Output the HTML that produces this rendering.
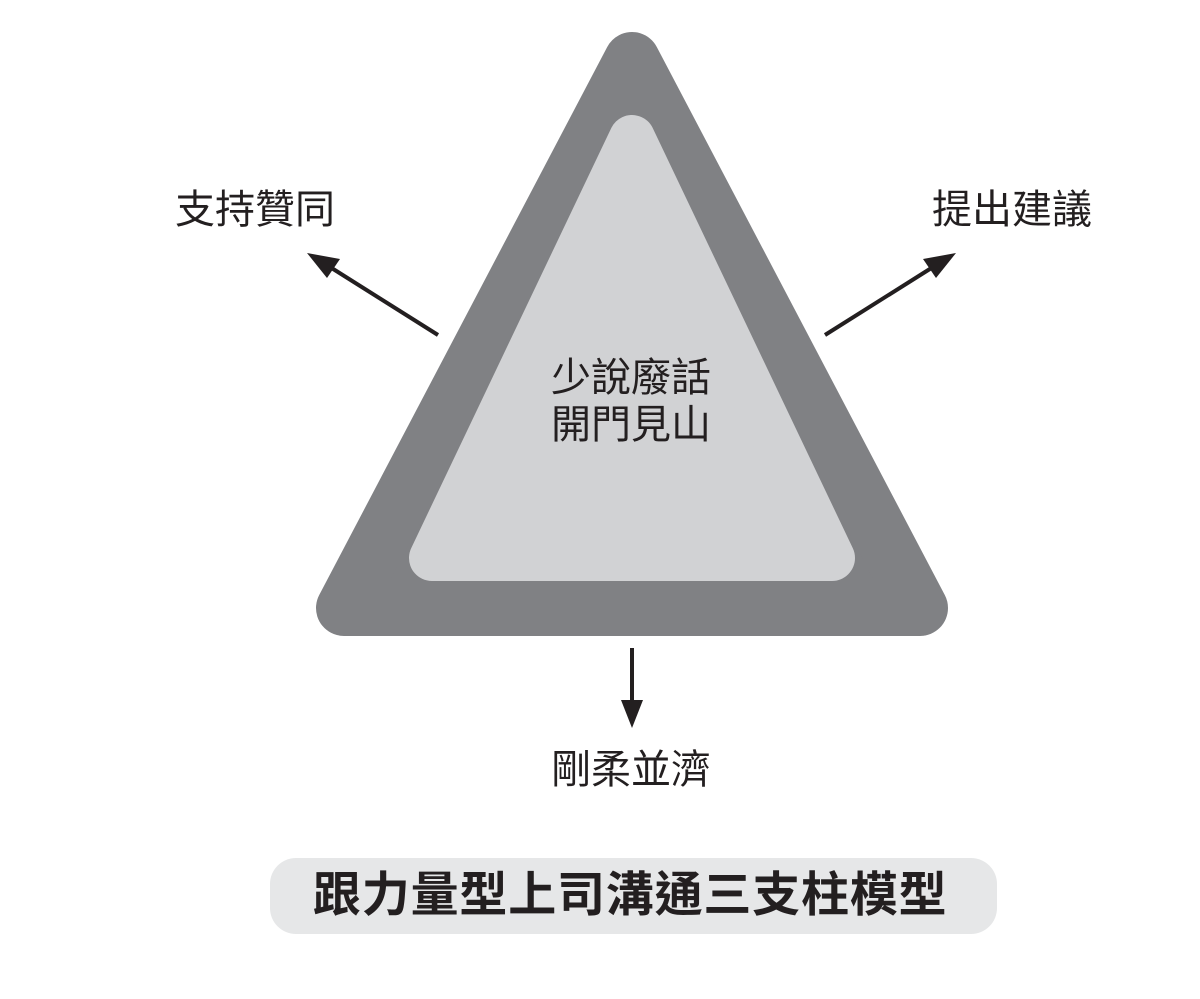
<!DOCTYPE html>
<html><head><meta charset="utf-8"><style>
html,body{margin:0;padding:0;background:#fff;}
body{width:1200px;height:999px;position:relative;overflow:hidden;font-family:"Liberation Sans","Noto Sans CJK TC",sans-serif;}
.t{position:absolute;font-size:40px;color:#231f20;white-space:nowrap;line-height:1;}
</style></head><body>
<svg width="1200" height="999" style="position:absolute;left:0;top:0">
<polygon points="632,60 344,608 920,608" fill="#808184" stroke="#808184" stroke-width="56" stroke-linejoin="round"/>
<polygon points="632,138 432,558 832,558" fill="#d1d2d4" stroke="#d1d2d4" stroke-width="46" stroke-linejoin="round"/>
<line x1="438" y1="335" x2="330" y2="267" stroke="#231f20" stroke-width="4"/>
<polygon points="307,253 340,259 327,278" fill="#231f20"/>
<line x1="825" y1="335" x2="933" y2="267" stroke="#231f20" stroke-width="4"/>
<polygon points="956,253 936,278 923,259" fill="#231f20"/>
<line x1="632" y1="648" x2="632" y2="705" stroke="#231f20" stroke-width="4"/>
<polygon points="621,700 643,700 632,728" fill="#231f20"/>
<rect x="270" y="858" width="727" height="76" rx="26" fill="#e6e7e8"/>
</svg>
<div class="t" style="left:175px;top:190px;">支持贊同</div>
<div class="t" style="left:932px;top:190px;">提出建議</div>
<div class="t" style="left:551px;top:358px;">少說廢話</div>
<div class="t" style="left:551px;top:405px;">開門見山</div>
<div class="t" style="left:551px;top:750px;">剛柔並濟</div>
<div class="t" style="left:313px;top:872px;font-size:48px;font-weight:bold;letter-spacing:0.8px;">跟力量型上司溝通三支柱模型</div>
</body></html>
